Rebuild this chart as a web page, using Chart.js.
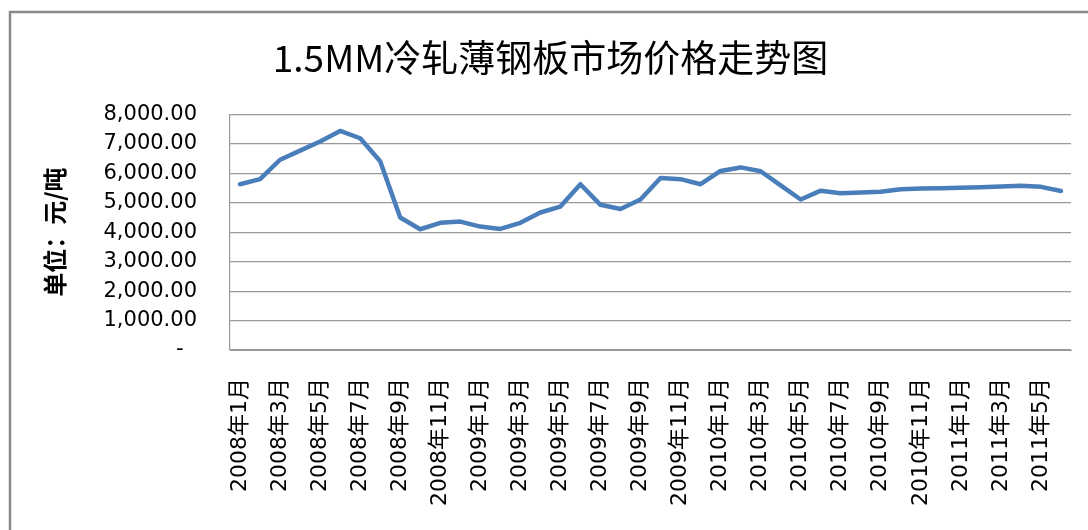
<!DOCTYPE html>
<html>
<head>
<meta charset="utf-8">
<script src="https://cdn.jsdelivr.net/npm/chart.js@4"></script>
<style>
  html, body { margin: 0; padding: 0; background: #fff; }
  #wrap { width: 1088px; height: 530px; }
</style>
</head>
<body>
<div id="wrap"><canvas id="priceChart" width="1088" height="530"></canvas></div>
<script>
const chartTitle = '1.5MM冷轧薄钢板市场价格走势图';
const yTitle = '单位：元/吨';

const months = [
  '2008年1月', '2008年2月', '2008年3月', '2008年4月', '2008年5月', '2008年6月',
  '2008年7月', '2008年8月', '2008年9月', '2008年10月', '2008年11月', '2008年12月',
  '2009年1月', '2009年2月', '2009年3月', '2009年4月', '2009年5月', '2009年6月',
  '2009年7月', '2009年8月', '2009年9月', '2009年10月', '2009年11月', '2009年12月',
  '2010年1月', '2010年2月', '2010年3月', '2010年4月', '2010年5月', '2010年6月',
  '2010年7月', '2010年8月', '2010年9月', '2010年10月', '2010年11月', '2010年12月',
  '2011年1月', '2011年2月', '2011年3月', '2011年4月', '2011年5月', '2011年6月'
];

// 元/吨
const prices = [
  5630, 5800, 6460, 6770, 7080, 7440,
  7190, 6410, 4500, 4100, 4320, 4360,
  4190, 4110, 4320, 4670, 4870, 5630,
  4930, 4790, 5110, 5840, 5800, 5630,
  6080, 6200, 6070, 5590, 5110, 5410,
  5320, 5350, 5370, 5460, 5480, 5490,
  5510, 5530, 5550, 5580, 5540, 5400
];

// outer frame of the chart box (left + top edges only are visible)
const framePlugin = {
  id: 'frame',
  afterDraw(chart) {
    const ctx = chart.ctx;
    ctx.save();
    ctx.strokeStyle = '#8a8a8a';
    ctx.lineWidth = 2.5;
    ctx.beginPath();
    ctx.moveTo(10, 530);
    ctx.lineTo(10, 12);
    ctx.lineTo(1088, 12);
    ctx.stroke();
    ctx.restore();
  }
};

const ctx = document.getElementById('priceChart').getContext('2d');
new Chart(ctx, {
  type: 'line',
  data: {
    labels: months,
    datasets: [{
      data: prices,
      borderColor: '#4a7ebb',
      borderWidth: 4.5,
      pointRadius: 0,
      tension: 0,
      borderCapStyle: 'round',
      borderJoinStyle: 'round',
      fill: false
    }]
  },
  options: {
    responsive: false,
    animation: false,
    layout: { padding: { left: 30, right: 17, top: 0, bottom: 0 } },
    plugins: {
      legend: { display: false },
      tooltip: { enabled: false },
      title: {
        display: true,
        text: chartTitle,
        color: '#000',
        font: { family: '"Noto Sans CJK SC", sans-serif', size: 37, weight: 'normal', lineHeight: 1.2 },
        padding: { top: 36, bottom: 34 }
      }
    },
    scales: {
      x: {
        offset: true,
        grid: { display: false, drawTicks: false },
        border: { display: true, color: '#999', width: 1 },
        ticks: {
          autoSkip: false,
          minRotation: 90,
          maxRotation: 90,
          padding: 28,
          color: '#000',
          font: { family: '"DejaVu Sans", "Noto Sans CJK SC", sans-serif', size: 22 },
          callback: function(value, index) {
            return index % 2 === 0 ? this.getLabelForValue(value) : '';
          }
        },
        afterFit: scale => {
          scale.height = 180;
          scale.paddingLeft = 0;
          scale.paddingRight = 0;
        }
      },
      y: {
        min: 0,
        max: 8000,
        grid: { color: '#999', lineWidth: 1.2, drawTicks: false },
        border: { display: true, color: '#999', width: 1.2 },
        ticks: {
          stepSize: 1000,
          padding: 33,
          color: '#000',
          font: { family: '"DejaVu Sans", sans-serif', size: 21 },
          callback: v => v === 0 ? '-  ' : v.toLocaleString('en-US', { minimumFractionDigits: 2, maximumFractionDigits: 2 })
        },
        title: {
          display: true,
          text: yTitle,
          color: '#000',
          font: { family: '"Noto Sans CJK SC", sans-serif', size: 24, weight: 'bold', lineHeight: 1.2 },
          padding: { top: 10, bottom: 0 }
        },
        afterFit: scale => { scale.width = 200; }
      }
    }
  },
  plugins: [framePlugin]
});
</script>
</body>
</html>
